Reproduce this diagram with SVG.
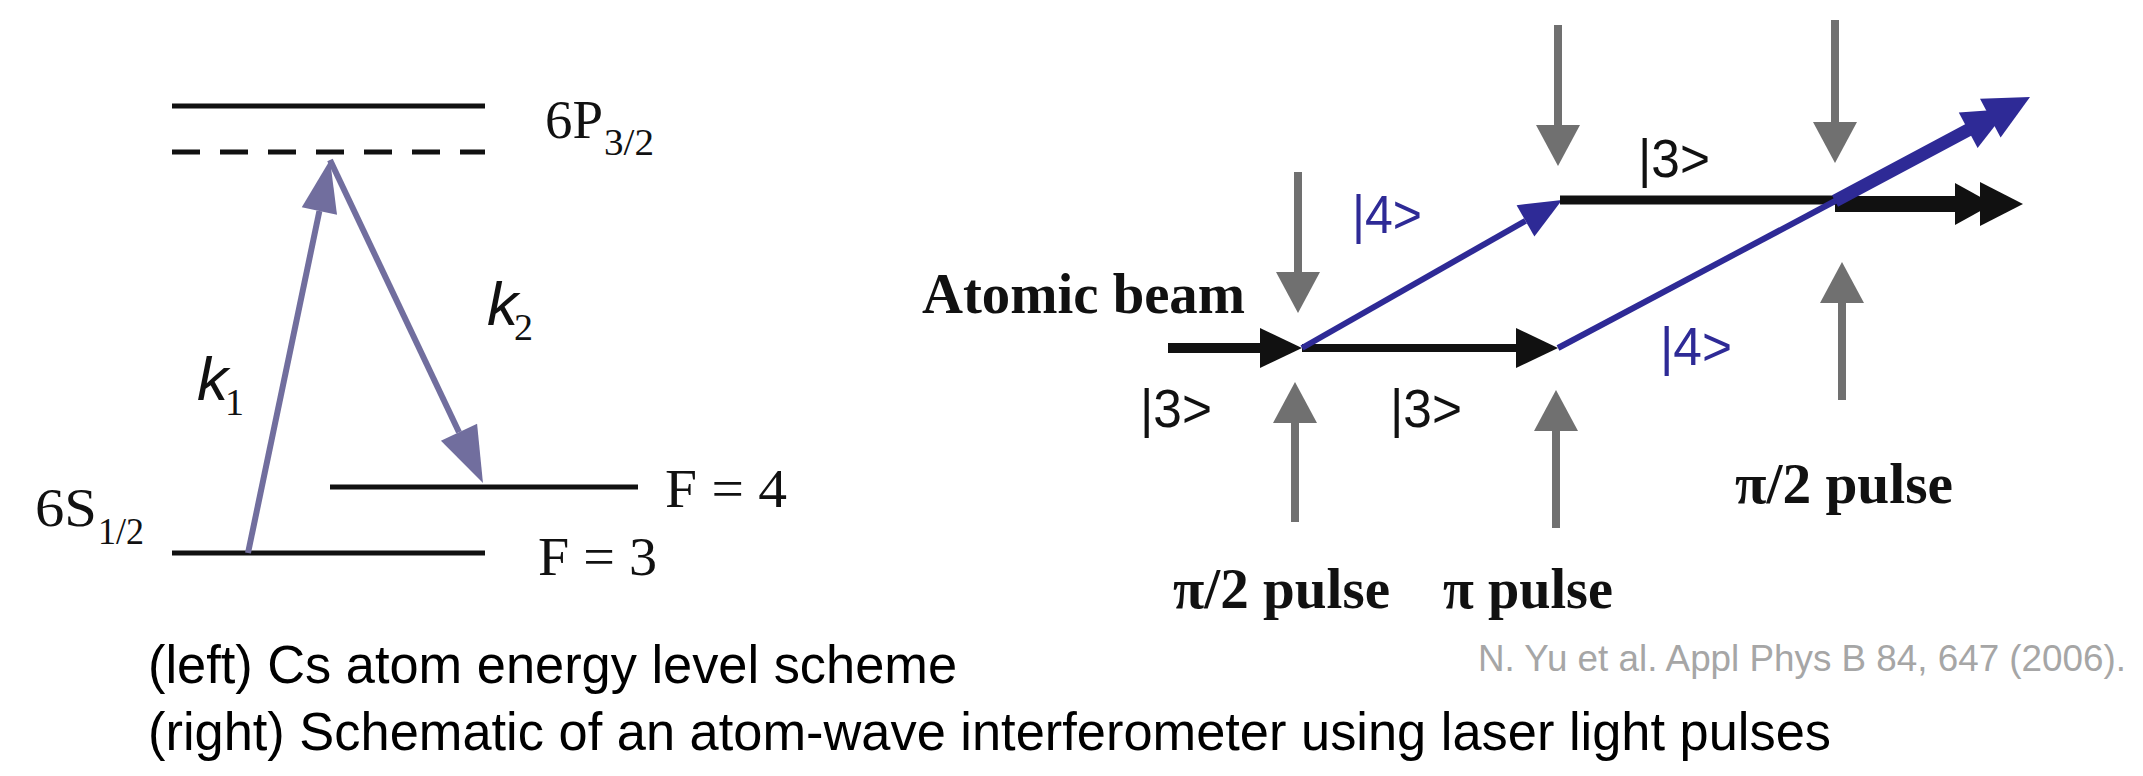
<svg xmlns="http://www.w3.org/2000/svg" width="2143" height="776" viewBox="0 0 2143 776">
<style>
.lvl{stroke:#111;stroke-width:5;fill:none}
.serif{font-family:"Liberation Serif","Times New Roman",serif;fill:#111}
.bold{font-weight:bold}
.ket{font-family:"Liberation Sans",Arial,sans-serif;font-size:53px}
.kk{font-family:"Liberation Sans",Arial,sans-serif;font-style:italic;font-size:62px;fill:#111}
.cap{font-family:"Liberation Sans",Arial,sans-serif;font-size:54px;fill:#000}
.gray{stroke:#707070;stroke-width:8;fill:none}
.purple{stroke:#716e9e;stroke-width:6;fill:none}
.blk{stroke:#111;fill:none}
.blue{stroke:#2e2a96;fill:none}
</style>
<defs>
<marker id="hGray" markerUnits="userSpaceOnUse" markerWidth="50" markerHeight="50" refX="0" refY="22" orient="auto" overflow="visible"><path d="M0,0 L41,22 L0,44 Z" fill="#707070"/></marker>
<marker id="hBlack" markerUnits="userSpaceOnUse" markerWidth="50" markerHeight="50" refX="0" refY="20" orient="auto" overflow="visible"><path d="M0,0 L42,20 L0,40 Z" fill="#111"/></marker>
<marker id="hBlue" markerUnits="userSpaceOnUse" markerWidth="50" markerHeight="50" refX="0" refY="18" orient="auto" overflow="visible"><path d="M0,0 L42,18 L0,36 Z" fill="#2e2a96"/></marker>
<marker id="hK1" markerUnits="userSpaceOnUse" markerWidth="60" markerHeight="60" refX="0" refY="18" orient="auto" overflow="visible"><path d="M0,0 L52,18 L0,36 Z" fill="#716e9e"/></marker>
<marker id="hK2" markerUnits="userSpaceOnUse" markerWidth="60" markerHeight="60" refX="0" refY="20" orient="auto" overflow="visible"><path d="M0,0 L56,20 L0,40 Z" fill="#716e9e"/></marker>
</defs>
<rect width="2143" height="776" fill="#fff"/>

<g id="level-6P">
<line class="lvl" x1="172" y1="106" x2="485" y2="106"/>
<text class="serif" x="545" y="138" font-size="54" textLength="58" lengthAdjust="spacingAndGlyphs">6P</text>
<text class="serif" x="604" y="155" font-size="38" textLength="50" lengthAdjust="spacingAndGlyphs">3/2</text>
</g>
<g id="level-virtual">
<line class="lvl" x1="172" y1="152" x2="485" y2="152" stroke-dasharray="28 20"/>
</g>
<g id="level-F4">
<line class="lvl" x1="330" y1="487" x2="638" y2="487"/>
<text class="serif" x="665" y="507" font-size="54" textLength="122" lengthAdjust="spacingAndGlyphs">F = 4</text>
</g>
<g id="level-F3">
<line class="lvl" x1="172" y1="553" x2="485" y2="553"/>
<text class="serif" x="538" y="575" font-size="54" textLength="119" lengthAdjust="spacingAndGlyphs">F = 3</text>
<text class="serif" x="35" y="526" font-size="54" textLength="62" lengthAdjust="spacingAndGlyphs">6S</text>
<text class="serif" x="98" y="544" font-size="38" textLength="46" lengthAdjust="spacingAndGlyphs">1/2</text>
</g>
<g id="label-k1">
<text class="kk" x="197" y="400">k</text>
<text class="serif" x="225" y="415" font-size="38">1</text>
</g>
<g id="label-k2">
<text class="kk" x="487" y="325">k</text>
<text class="serif" x="514" y="340" font-size="38">2</text>
</g>

<g id="texts-right">
<text class="serif bold" x="922" y="313" font-size="58" textLength="323" lengthAdjust="spacingAndGlyphs">Atomic beam</text>
<text class="ket" x="1352" y="233" fill="#2e2a96" textLength="70" lengthAdjust="spacingAndGlyphs">|4&gt;</text>
<text class="ket" x="1638" y="177" fill="#111" textLength="72" lengthAdjust="spacingAndGlyphs">|3&gt;</text>
<text class="ket" x="1660" y="365" fill="#2e2a96" textLength="72" lengthAdjust="spacingAndGlyphs">|4&gt;</text>
<text class="ket" x="1140" y="427" fill="#111" textLength="72" lengthAdjust="spacingAndGlyphs">|3&gt;</text>
<text class="ket" x="1390" y="427" fill="#111" textLength="72" lengthAdjust="spacingAndGlyphs">|3&gt;</text>
</g>
<g id="pulse-1">
<text class="serif bold" x="1173" y="608" font-size="57" textLength="217" lengthAdjust="spacingAndGlyphs">π/2 pulse</text>
</g>
<g id="pulse-2">
<text class="serif bold" x="1443" y="608" font-size="57" textLength="170" lengthAdjust="spacingAndGlyphs">π pulse</text>
</g>
<g id="pulse-3">
<text class="serif bold" x="1735" y="503" font-size="57" textLength="218" lengthAdjust="spacingAndGlyphs">π/2 pulse</text>
</g>

<g id="connectors">
<line class="purple" x1="248" y1="553" x2="319.4" y2="211" marker-end="url(#hK1)"/>
<line class="purple" x1="330" y1="160" x2="459" y2="432.3" marker-end="url(#hK2)"/>

<line class="gray" x1="1298" y1="172" x2="1298" y2="272" marker-end="url(#hGray)"/>
<line class="gray" x1="1295" y1="522" x2="1295" y2="423" marker-end="url(#hGray)"/>
<line class="gray" x1="1558" y1="25" x2="1558" y2="125" marker-end="url(#hGray)"/>
<line class="gray" x1="1556" y1="528" x2="1556" y2="431" marker-end="url(#hGray)"/>
<line class="gray" x1="1835" y1="20" x2="1835" y2="122" marker-end="url(#hGray)"/>
<line class="gray" x1="1842" y1="400" x2="1842" y2="303" marker-end="url(#hGray)"/>

<line class="blk" stroke-width="10" x1="1168" y1="348" x2="1260" y2="348" marker-end="url(#hBlack)"/>
<line class="blk" stroke-width="8" x1="1302" y1="348" x2="1516" y2="348" marker-end="url(#hBlack)"/>
<line class="blue" stroke-width="6" x1="1302" y1="348" x2="1525.5" y2="220.8" marker-end="url(#hBlue)"/>
<line class="blk" stroke-width="9" x1="1560" y1="200" x2="1838" y2="200"/>
<line class="blk" stroke-width="16" x1="1835" y1="204" x2="1960" y2="204"/>
<polygon points="1955,183 1993,204 1955,225" fill="#111"/>
<polygon points="1980,182 2023,204 1980,226" fill="#111"/>
<line class="blue" stroke-width="6" x1="1558" y1="348" x2="1837" y2="200"/>
<line class="blue" stroke-width="13" x1="1835" y1="201" x2="1970" y2="129"/>
<polygon points="2008,109 1977.6,147.9 1958.8,112.5" fill="#2e2a96"/>
<polygon points="2030,97 2000.6,137.6 1980,98.8" fill="#2e2a96"/>
</g>

<g id="captions">
<text class="cap" x="148" y="683" textLength="809" lengthAdjust="spacingAndGlyphs">(left) Cs atom energy level scheme</text>
<text class="cap" x="148" y="750" textLength="1683" lengthAdjust="spacingAndGlyphs">(right) Schematic of an atom-wave interferometer using laser light pulses</text>
</g>
<g id="citation">
<text x="1478" y="671" font-family="Liberation Sans, Arial, sans-serif" font-size="36" fill="#a6a6a6" textLength="648" lengthAdjust="spacingAndGlyphs">N. Yu et al. Appl Phys B 84, 647 (2006).</text>
</g>
</svg>
